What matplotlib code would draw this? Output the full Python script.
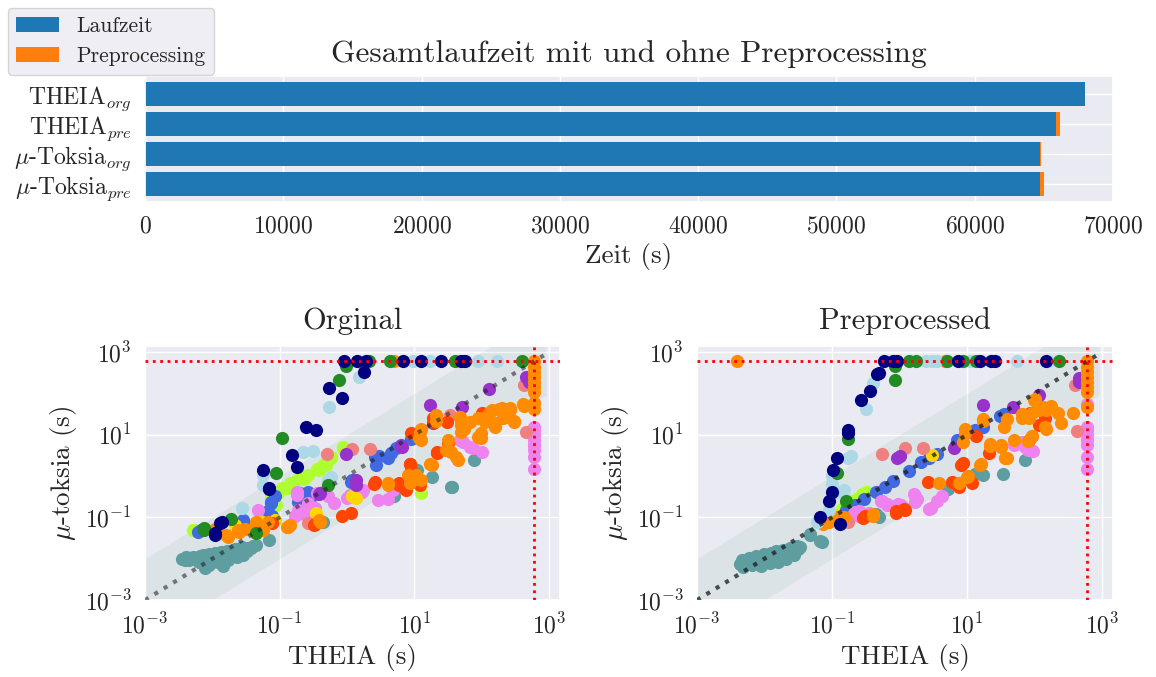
import numpy as np
import matplotlib
matplotlib.use('Agg')
import matplotlib.pyplot as plt
import seaborn as sns

sns.set_theme(style='darkgrid')
plt.rcParams['font.family'] = ['cmr10', 'DejaVu Serif']
plt.rcParams['mathtext.fontset'] = 'cm'
plt.rcParams['axes.formatter.use_mathtext'] = True
plt.rcParams['axes.unicode_minus'] = False

# ---- top: total runtime ----
solvers = ['THEIA$_{org}$', 'THEIA$_{pre}$', r'$\mu$-Toksia$_{org}$', r'$\mu$-Toksia$_{pre}$']
laufzeit = [67950, 65870, 64720, 64720]
preprocessing = [60, 290, 70, 290]

T = 600  # timeout (s)

# ---- bottom left: original instances (THEIA s, mu-toksia s) ----
org_navy_x = [0.89, 1.4, 1.9, 6.8, 12.6, 25, 50, 56, 1.8, 0.54, 0.83, 0.25, 0.35, 0.155, 0.18, 0.057,
              0.069, 0.013, 0.011, 0.014, 0.011, 0.069]
org_navy_y = [600, 600, 600, 600, 600, 600, 600, 600, 330, 134, 78, 15, 13, 3.2, 1.7, 1.4,
              0.48, 0.072, 0.037, 0.077, 0.041, 0.5]
org_green_x = [2.1, 4.4, 40, 400, 0.97, 0.76, 0.11, 0.087, 0.019, 0.0074, 0.044, 0.52, 0.0076]
org_green_y = [600, 600, 600, 600, 460, 210, 8.3, 1.2, 0.091, 0.049, 0.042, 0.6, 0.056]
org_lblue_x = [6.7, 9.5, 17, 89, 166, 1.5, 0.54, 0.22, 0.31, 0.057, 0.057, 0.028, 0.58, 0.52]
org_lblue_y = [600, 600, 600, 600, 600, 250, 47, 3.9, 4.1, 1.05, 0.6, 0.17, 0.95, 0.8]
org_orange_x = [5.0, 600, 600, 600, 600, 600, 600, 600, 600, 600,
                0.0117, 0.017, 0.025, 0.044, 0.057, 0.011, 0.016, 0.024, 0.031, 0.045, 0.066, 0.14,
                0.13, 0.39, 0.40, 4.0, 4.0, 8.5, 10, 12.6, 18, 8.1, 10.5, 17, 11.7, 12, 12.6, 12.6,
                21, 21, 32, 29, 42, 35, 45, 48, 51, 54, 66, 50, 50, 50, 89, 112, 133, 189, 96, 89,
                96, 115, 182, 263, 302, 407, 158, 204, 420, 300, 158, 265, 200, 140]
org_orange_y = [600, 600, 440, 330, 250, 190, 145, 110, 58, 41,
                0.049, 0.034, 0.045, 0.077, 0.049, 0.053, 0.037, 0.049, 0.053, 0.065, 0.077, 0.065,
                0.059, 0.085, 0.078, 0.6, 0.66, 0.66, 0.87, 0.8, 1.8, 1.05, 1.05, 2.0, 8.1, 11.8, 7.4, 14,
                22, 30, 7.4, 4.2, 2.9, 3.9, 2.4, 27, 20, 14, 20, 22, 17, 11.7, 25, 20, 36, 43, 10.7, 8.9,
                8.1, 27, 43, 45, 22, 54, 19, 25, 49, 20, 15.5, 40, 44, 40]
org_ored_x = [0.078, 0.32, 0.85, 1.15, 0.34, 2.5, 6.0, 7.6, 2.6, 5.9, 7.1, 8.5, 9.0, 12, 11, 9.0,
              19.5, 30, 32, 22, 18.6, 100, 100, 22, 8.7]
org_ored_y = [0.072, 0.065, 0.11, 0.13, 0.071, 0.63, 0.6, 0.46, 0.72, 0.66, 0.5, 2.0, 1.4, 0.6, 0.72, 10.8,
              20, 20, 6.2, 3.6, 25, 33, 25, 3.8, 2.0]
org_violet_x = [0.047, 0.18, 0.25, 0.36, 0.65, 0.17, 0.23, 0.18, 0.26, 0.34, 0.19, 0.44, 0.53, 1.0, 1.1,
                1.66, 2.9, 4.0, 4.6, 1.7, 4.8, 53, 74, 100, 66, 48,
                600, 600, 600, 600, 600, 600, 600, 600, 600]
org_violet_y = [0.15, 0.35, 0.13, 0.39, 0.22, 0.11, 0.12, 0.42, 0.22, 0.17, 0.15, 0.42, 0.32, 0.29, 0.35,
                0.42, 0.26, 0.28, 0.5, 0.46, 0.46, 6.8, 4.7, 3.9, 5.1, 7.4,
                58, 15.5, 12.9, 9.8, 7.4, 5.6, 4.3, 2.9, 1.45]
org_purple_x = [0.97, 1.35, 0.4, 0.39, 1.35, 6.5, 19, 17, 51, 126, 500, 460, 6.4]
org_purple_y = [3.5, 0.6, 0.39, 0.36, 0.8, 5.1, 19, 53, 48, 125, 190, 250, 5.3]
org_rblue_x = [0.0062, 0.0068, 0.011, 0.029, 0.029, 0.066, 0.075, 0.074, 0.078, 0.074, 0.085, 0.18, 0.2,
               0.19, 0.22, 0.31, 0.26, 1.15, 1.2, 2.6, 2.7, 3.0, 4.1, 4.5, 5.4, 6.3, 8.8]
org_rblue_y = [0.044, 0.049, 0.049, 0.076, 0.085, 0.14, 0.24, 0.22, 0.11, 0.10, 0.32, 0.38, 0.39,
               0.24, 0.32, 0.35, 0.42, 0.73, 0.8, 2.9, 1.8, 3.0, 2.7, 3.6, 4.7, 5.6, 7.7]
org_lgreen_x = [0.0052, 0.0054, 0.045, 0.074, 0.16, 0.087, 0.079, 0.11, 0.14, 0.18, 0.22, 0.26, 0.36, 0.44,
                0.5, 0.57, 0.58, 0.49, 0.39, 0.23, 0.13, 0.093, 0.074, 0.074, 0.86, 0.87, 12.6]
org_lgreen_y = [0.049, 0.05, 0.041, 0.39, 0.68, 0.2, 0.42, 0.5, 0.66, 0.8, 0.95, 1.05, 1.5, 1.8,
                2.4, 2.9, 2.7, 1.8, 1.4, 0.83, 0.51, 0.39, 0.3, 0.18, 4.4, 5.0, 0.38]
org_gold_x = [0.022, 1.35, 0.35, 0.054, 0.085, 1.2]
org_gold_y = [0.064, 0.29, 0.13, 0.078, 0.085, 0.32]
org_coral_x = [0.5, 1.17, 2.2, 34, 420, 450, 0.26, 0.135]
org_coral_y = [3.5, 4.5, 4.5, 30, 160, 11.7, 0.072, 0.059]
org_cadet_x = [0.0036, 0.0041, 0.0047, 0.0052, 0.006, 0.0066, 0.0073, 0.0081, 0.009, 0.01, 0.011, 0.0123,
               0.0136, 0.015, 0.0168, 0.0186, 0.0206, 0.0228, 0.026, 0.030, 0.034, 0.040, 0.044, 0.0063,
               0.0079, 0.0098, 0.0146, 0.017, 0.0235, 0.029,
               0.0039, 0.0045, 0.0055, 0.0070, 0.0085, 0.0105, 0.0118, 0.0130, 0.0160, 0.0195, 0.0215,
               0.0250, 0.0280, 0.0330, 0.0375, 0.0090, 0.0120,
               0.069, 36, 18, 78, 5, 11, 0.44, 35]
org_cadet_y = [0.0098, 0.0108, 0.0102, 0.0112, 0.0105, 0.0118, 0.0123, 0.0115, 0.0128, 0.0122, 0.0136, 0.0130,
               0.0142, 0.0135, 0.0150, 0.0145, 0.0160, 0.0155, 0.0170, 0.0165, 0.0185, 0.0200, 0.0210, 0.0082,
               0.0059, 0.0088, 0.0066, 0.0095, 0.0108, 0.0125,
               0.0092, 0.0094, 0.0096, 0.0100, 0.0108, 0.0110, 0.0120, 0.0125, 0.0125, 0.0135, 0.0175,
               0.0140, 0.0190, 0.0150, 0.0180, 0.0072, 0.0085,
               0.028, 0.54, 0.93, 2.5, 0.32, 1.4, 0.076, 0.53]

# ---- bottom right: preprocessed instances ----
pre_navy_x = [0.58, 0.81, 0.91, 7.4, 15.5, 23, 26, 150, 0.46, 0.5, 0.36, 0.27, 0.17, 0.17, 0.12, 0.105,
              0.1, 0.089, 0.066, 0.13]
pre_navy_y = [600, 600, 600, 600, 600, 600, 600, 600, 300, 310, 115, 69, 13, 10.7, 2.7, 1.4,
              0.4, 0.25, 0.10, 0.07]
pre_green_x = [1.4, 1.75, 5.0, 8.7, 13.5, 230, 0.85, 0.85, 0.17, 0.12, 0.16]
pre_green_y = [600, 600, 600, 600, 600, 600, 460, 210, 7.7, 1.2, 0.25]
pre_lblue_x = [2.5, 3.0, 3.6, 11, 54, 160, 0.41, 0.32, 0.17, 0.19, 0.1, 0.1, 0.15, 0.12, 0.089, 0.059]
pre_lblue_y = [600, 600, 600, 600, 600, 600, 175, 41, 2.7, 3.0, 1.0, 0.63, 0.46, 0.42, 0.15, 0.077]
pre_orange_x = [0.0039, 4.7, 600, 600, 600, 600, 600, 600, 600, 600,
                0.074, 0.089, 0.105, 0.12, 0.15, 0.4, 0.4, 3.8, 7.6, 16, 22, 32, 39, 10.5, 10, 15.5, 17,
                9.3, 9.3, 8.7, 22, 32, 36, 49, 93, 98, 178, 148, 135, 115, 91, 65, 148, 224, 250, 370,
                91, 81, 17, 35, 39, 65, 83, 107, 100, 145]
pre_orange_y = [600, 600, 600, 440, 330, 250, 190, 145, 110, 46,
                0.07, 0.077, 0.093, 0.1, 0.1, 0.11, 0.12, 0.67, 0.67, 1.95, 6, 5.5, 2.8, 1.0, 0.95, 1.8, 22,
                14, 10.7, 6.5, 5.2, 5.1, 2.7, 7.4, 9.3, 71, 49, 40, 48, 40, 33, 25, 14, 33, 19, 33,
                9.3, 7.1, 24, 15, 24, 32, 26, 43, 74, 15]
pre_ored_x = [0.89, 1.2, 0.29, 0.31, 8.1, 8.7, 13.5, 21, 84, 145, 115, 85, 2.6, 5.9, 7.6, 11.7, 0.89, 1.15]
pre_ored_y = [0.13, 0.15, 0.098, 0.11, 1.8, 2.1, 9.3, 3.6, 7.4, 25, 17, 33, 0.72, 0.7, 0.54, 0.67, 0.145, 0.16]
pre_violet_x = [0.071, 0.22, 0.25, 0.31, 0.55, 0.65, 1.05, 1.7, 1.7, 2.7, 0.35, 0.21, 0.25, 1.65, 1.8,
                2.9, 3.6, 4.3, 0.54, 0.65, 0.95, 1.15, 72, 81, 96, 50, 66,
                600, 600, 600, 600, 600, 600, 600, 600]
pre_violet_y = [0.074, 0.135, 0.11, 0.12, 0.25, 0.2, 0.2, 0.32, 0.23, 0.16, 0.13, 0.13, 0.145, 0.36, 0.28,
                0.17, 0.25, 0.33, 0.25, 0.21, 0.21, 0.17, 5.1, 4.3, 4.1, 5.5, 6.6,
                55, 15.5, 12.9, 9.8, 7.4, 5.6, 2.9, 1.45]
pre_purple_x = [17, 0.93, 6.3, 48, 118, 460, 460, 1.0]
pre_purple_y = [53, 2.8, 4.9, 48, 91, 190, 230, 3.1]
pre_rblue_x = [0.12, 0.16, 0.22, 0.3, 0.45, 0.6, 0.8, 1.4, 2.1, 2.7, 3.6, 7.1, 12, 13, 17, 31, 35, 0.14, 0.11]
pre_rblue_y = [0.11, 0.15, 0.2, 0.28, 0.42, 0.55, 0.75, 1.3, 2.2, 2.7, 3.5, 7.4, 11.7, 12.9, 15.5, 29, 32, 0.1, 0.09]
pre_lgreen_x = [0.2, 0.24, 0.28, 0.33, 0.17, 0.14]
pre_lgreen_y = [0.25, 0.3, 0.36, 0.42, 0.2, 0.16]
pre_gold_x = [3.0, 0.12]
pre_gold_y = [3.2, 0.11]
pre_coral_x = [0.55, 1.2, 2.2, 400, 420, 0.17]
pre_coral_y = [3.5, 4.7, 4.7, 160, 12.3, 0.077]
pre_cadet_x = [0.0044, 0.0047, 0.0051, 0.0056, 0.0061, 0.0066, 0.0072, 0.0079, 0.0086, 0.0094, 0.0102,
               0.011, 0.012, 0.013, 0.0144, 0.0155, 0.017, 0.0185, 0.020, 0.022, 0.024, 0.026, 0.028,
               0.031, 0.034, 0.0048, 0.0065, 0.0088, 0.012, 0.016, 0.021, 0.027,
               0.0046, 0.0058, 0.0075, 0.0098, 0.0125, 0.0150, 0.0190, 0.0235, 0.0300,
               0.047, 0.071, 0.048, 0.067, 0.49, 72, 34, 13, 17, 5.2, 0.45]
pre_cadet_y = [0.0075, 0.0085, 0.0079, 0.0092, 0.0088, 0.0098, 0.0093, 0.0105, 0.0110, 0.0102, 0.0118,
               0.0112, 0.0125, 0.0120, 0.0132, 0.0128, 0.0140, 0.0136, 0.0150, 0.0145, 0.0160, 0.0155, 0.0175,
               0.0170, 0.0190, 0.0062, 0.0070, 0.0068, 0.0080, 0.0085, 0.0100, 0.0120,
               0.0095, 0.0105, 0.0118, 0.0130, 0.0140, 0.0155, 0.0165, 0.0185, 0.0200,
               0.037, 0.026, 0.039, 0.027, 0.10, 2.5, 1.15, 1.15, 1.05, 0.49, 0.12]

org_groups = [
    (org_cadet_x, org_cadet_y, 'cadetblue'),
    (org_lgreen_x, org_lgreen_y, 'greenyellow'),
    (org_rblue_x, org_rblue_y, 'royalblue'),
    (org_violet_x, org_violet_y, 'violet'),
    (org_gold_x, org_gold_y, 'gold'),
    (org_coral_x, org_coral_y, 'lightcoral'),
    (org_purple_x, org_purple_y, 'darkorchid'),
    (org_ored_x, org_ored_y, 'orangered'),
    (org_orange_x, org_orange_y, 'darkorange'),
    (org_lblue_x, org_lblue_y, 'lightblue'),
    (org_green_x, org_green_y, 'forestgreen'),
    (org_navy_x, org_navy_y, 'navy'),
]
pre_groups = [
    (pre_cadet_x, pre_cadet_y, 'cadetblue'),
    (pre_lgreen_x, pre_lgreen_y, 'greenyellow'),
    (pre_rblue_x, pre_rblue_y, 'royalblue'),
    (pre_violet_x, pre_violet_y, 'violet'),
    (pre_gold_x, pre_gold_y, 'gold'),
    (pre_coral_x, pre_coral_y, 'lightcoral'),
    (pre_purple_x, pre_purple_y, 'darkorchid'),
    (pre_ored_x, pre_ored_y, 'orangered'),
    (pre_orange_x, pre_orange_y, 'darkorange'),
    (pre_lblue_x, pre_lblue_y, 'lightblue'),
    (pre_green_x, pre_green_y, 'forestgreen'),
    (pre_navy_x, pre_navy_y, 'navy'),
]

fig = plt.figure(figsize=(11.56, 6.77), dpi=100)

# top bar chart
ax0 = fig.add_axes([0.1254, 0.7016, 0.8374, 0.1861])
ax0.barh(solvers, laufzeit, height=0.8, color='#1f77b4', linewidth=0, label='Laufzeit')
ax0.barh(solvers, preprocessing, left=laufzeit, height=0.8, color='#ff7f0e', linewidth=0,
         label='Preprocessing')
ax0.invert_yaxis()
ax0.set_xlim(0, 70000)
ax0.set_title('Gesamtlaufzeit mit und ohne Preprocessing', fontsize=22.5, pad=10)
ax0.set_xlabel('Zeit (s)', fontsize=19.5, labelpad=4)
ax0.tick_params(labelsize=17)
fig.legend(loc='upper left', bbox_to_anchor=(0.0, 1.0), fontsize=15.5, borderaxespad=0.35)


def scatter_panel(ax, groups, title, diag_alpha):
    ax.set_xscale('log')
    ax.set_yscale('log')
    bx = np.array([1e-3, 900])
    ax.fill_between(bx, bx / 10, bx * 10, color='seagreen', alpha=0.07, lw=0, zorder=1)
    for xs, ys, col in groups:
        ax.scatter(xs, ys, s=90, color=col, linewidths=0, zorder=2)
    ax.plot([1e-3, 850], [1e-3, 850], ':', color='k', lw=3, alpha=diag_alpha, zorder=3)
    ax.axhline(T, color='red', ls=':', lw=2, zorder=4)
    ax.axvline(T, color='red', ls=':', lw=2, zorder=4)
    ax.set_xlim(1e-3, 1450)
    ax.set_ylim(1e-3, 1400)
    ax.set_xticks([1e-3, 1e-1, 1e1, 1e3])
    ax.set_yticks([1e-3, 1e-1, 1e1, 1e3])
    ax.minorticks_off()
    ax.set_title(title, fontsize=22, pad=12.5)
    ax.set_xlabel('THEIA (s)', fontsize=19.5)
    ax.set_ylabel(r'$\mu$-toksia (s)', fontsize=19.5)
    ax.tick_params(labelsize=17)


ax1 = fig.add_axes([0.1254, 0.1137, 0.359, 0.3752])
scatter_panel(ax1, org_groups, 'Orginal', 0.55)
ax2 = fig.add_axes([0.6029, 0.1137, 0.3599, 0.3752])
scatter_panel(ax2, pre_groups, 'Preprocessed', 0.75)

fig.savefig('out.png', dpi=100)
